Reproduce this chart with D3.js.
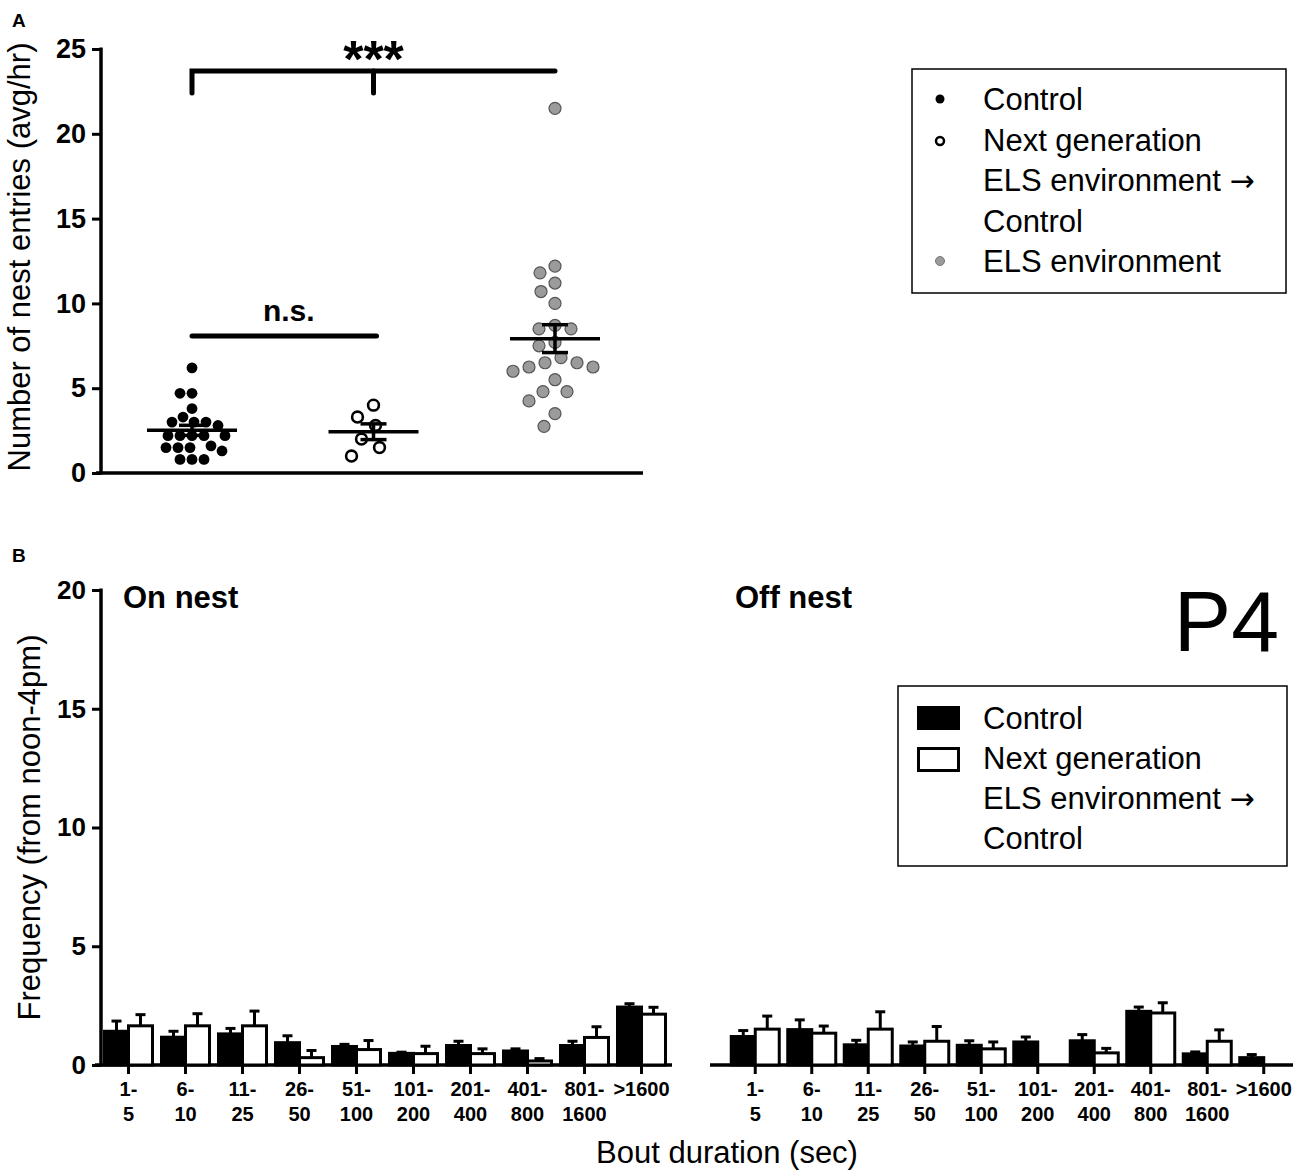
<!DOCTYPE html>
<html>
<head>
<meta charset="utf-8">
<script src="https://cdn.jsdelivr.net/npm/d3@7/dist/d3.min.js"></script>
<style>
  body { margin: 0; background: #fff; }
  text { font-family: "Liberation Sans", Arial, sans-serif; fill: #000; }
</style>
</head>
<body>
<div id="chart"></div>
<script>
// ---- panel A data (nest entries, avg/hr) ----
var groupsA = ["Control", "Next", "ELS"];
var controlVals = [6.2, 4.7, 4.7, 3.8, 3.0, 3.3, 3.0, 3.0, 2.8, 2.2, 2.2, 2.2, 2.2, 2.2,
                   1.5, 1.5, 1.6, 1.3, 1.5, 0.8, 0.8, 0.8];
var nextVals = [4.0, 3.3, 2.8, 2.0, 1.5, 1.0];
var elsVals = [21.5, 12.2, 11.8, 11.2, 10.7, 10.0, 8.7, 8.5, 8.5, 7.5, 7.7, 6.8, 6.5, 6.25,
               6.0, 6.25, 6.5, 5.5, 4.8, 4.8, 4.25, 3.5, 2.75];
var ticksA = [0, 5, 10, 15, 20, 25];
var legendA = ["Control", "Next generation", "ELS environment ", "Control", "ELS environment"];

// ---- panel B data (bout frequency) ----
var boutCats = ["1-5", "6-10", "11-25", "26-50", "51-100", "101-200", "201-400", "401-800", "801-1600", ">1600"];
var boutLabels = [["1-", "5"], ["6-", "10"], ["11-", "25"], ["26-", "50"], ["51-", "100"],
                  ["101-", "200"], ["201-", "400"], ["401-", "800"], ["801-", "1600"], [">1600", ""]];
var onCtrl = [1.42, 1.17, 1.31, 0.94, 0.78, 0.49, 0.82, 0.59, 0.82, 2.44];
var onCtrlErr = [0.43, 0.25, 0.23, 0.29, 0.09, 0.05, 0.18, 0.09, 0.18, 0.14];
var onNext = [1.65, 1.65, 1.65, 0.31, 0.65, 0.48, 0.48, 0.17, 1.16, 2.14];
var onNextErr = [0.47, 0.51, 0.62, 0.30, 0.38, 0.31, 0.20, 0.10, 0.45, 0.29];
var offCtrl = [1.20, 1.49, 0.85, 0.80, 0.83, 0.97, 1.02, 2.26, 0.47, 0.31];
var offCtrlErr = [0.25, 0.41, 0.19, 0.17, 0.19, 0.21, 0.26, 0.18, 0.08, 0.13];
var offNext = [1.51, 1.34, 1.51, 1.00, 0.68, 0, 0.51, 2.19, 1.00, 0];
var offNextErr = [0.55, 0.30, 0.73, 0.62, 0.29, 0, 0.19, 0.43, 0.48, 0];
var ticksB = [0, 5, 10, 15, 20];
var legendB = ["Control", "Next generation", "ELS environment ", "Control"];

var W = 1300, H = 1176;
var svg = d3.select("#chart").append("svg").attr("width", W).attr("height", H);

// legend line, with the arrow in a font that draws it larger
function legendText(g, x, y, t) {
    var el = g.append("text").attr("x", x).attr("y", y).style("font-size", "31px").text(t);
    if (t.indexOf("ELS environment ") === 0 && t.length === 16) {
        el.append("tspan").style("font-family", "DejaVu Sans").style("font-size", "30px").text("\u2192");
    }
}

// ================= Panel A =================
var yA = d3.scaleLinear().domain([0, 25]).range([473, 49]);
var xA = d3.scalePoint().domain(groupsA).range([192, 555]);

svg.append("text").attr("x", 12).attr("y", 27).style("font-weight", "bold").style("font-size", "19px").text("A");

var axA = svg.append("g").attr("transform", "translate(101,0)")
    .call(d3.axisLeft(yA).tickValues(ticksA).tickSize(9).tickPadding(6));
axA.select(".domain").remove();
axA.selectAll(".tick line").attr("stroke", "#000").attr("stroke-width", 3);
axA.selectAll(".tick text").style("font-size", "27px").style("font-weight", "bold")
    .style("font-family", "Liberation Sans, Arial, sans-serif");
svg.append("line").attr("x1", 101).attr("x2", 101).attr("y1", yA(25) - 1.5).attr("y2", yA(0) + 1.5)
    .attr("stroke", "#000").attr("stroke-width", 3.5);
svg.append("line").attr("x1", 96).attr("x2", 643).attr("y1", yA(0)).attr("y2", yA(0))
    .attr("stroke", "#000").attr("stroke-width", 3.5);

svg.append("text").attr("transform", "translate(30," + (yA(12.5) - 4) + ") rotate(-90)")
    .attr("text-anchor", "middle").style("font-size", "31px").text("Number of nest entries (avg/hr)");

// simple beeswarm: place each value at the nearest free offset from the group centre
function swarm(vals, r) {
    var placed = [];
    var order = vals.map(function(v, i) { return i; }).sort(function(a, b) { return vals[b] - vals[a]; });
    var out = new Array(vals.length);
    order.forEach(function(i) {
        var py = yA(vals[i]);
        var best = 0;
        for (var k = 0; k < 400; k++) {
            var cand = (k % 2 === 0 ? 1 : -1) * Math.ceil(k / 2);
            var ok = placed.every(function(p) {
                var dx = p.dx - cand, dy = p.y - py;
                return dx * dx + dy * dy >= (2 * r) * (2 * r);
            });
            if (ok) { best = cand; break; }
        }
        placed.push({dx: best, y: py});
        out[i] = {dx: best, y: py, v: vals[i]};
    });
    return out;
}

var seriesA = [
    {g: "Control", vals: controlVals, r: 5.4, fill: "#000", stroke: "#000", sw: 0, gap: 0.6},
    {g: "Next", vals: nextVals, r: 5.4, fill: "#fff", stroke: "#000", sw: 2.6, gap: 3},
    {g: "ELS", vals: elsVals, r: 6, fill: "#9b9b9b", stroke: "#555", sw: 1.2, gap: 1.5}
];

seriesA.forEach(function(s) {
    var pts = swarm(s.vals, s.r + s.sw / 2 + s.gap);
    svg.append("g").selectAll("circle").data(pts).enter().append("circle")
        .attr("cx", function(d) { return xA(s.g) + d.dx; })
        .attr("cy", function(d) { return d.y; })
        .attr("r", s.r)
        .attr("fill", s.fill).attr("stroke", s.stroke).attr("stroke-width", s.sw);

    var m = d3.mean(s.vals);
    var sem = d3.deviation(s.vals) / Math.sqrt(s.vals.length);
    var cx = xA(s.g);
    var g = svg.append("g").attr("stroke", "#000").attr("stroke-width", 3.5);
    g.append("line").attr("x1", cx - 45).attr("x2", cx + 45).attr("y1", yA(m)).attr("y2", yA(m));
    g.append("line").attr("x1", cx).attr("x2", cx).attr("y1", yA(m - sem)).attr("y2", yA(m + sem));
    [m - sem, m + sem].forEach(function(v) {
        g.append("line").attr("x1", cx - 13).attr("x2", cx + 13).attr("y1", yA(v)).attr("y2", yA(v));
    });
});

// significance marks
var sig = svg.append("g").attr("stroke", "#000").attr("stroke-width", 5).attr("stroke-linecap", "round").attr("fill", "none");
sig.append("path").attr("d", "M" + xA("Control") + "," + yA(22.4) + "V" + yA(23.7) + "H" + xA("ELS"));
sig.append("line").attr("x1", xA("Next")).attr("x2", xA("Next")).attr("y1", yA(23.7)).attr("y2", yA(22.4));
sig.append("line").attr("x1", xA("Control")).attr("x2", xA("Next") + 3).attr("y1", yA(8.08)).attr("y2", yA(8.08));
svg.append("text").attr("x", xA("Next")).attr("y", yA(23.7) + 6).attr("text-anchor", "middle")
    .style("font-size", "52px").style("font-weight", "bold").text("***");
svg.append("text").attr("x", (xA("Control") + xA("Next")) / 2 + 6).attr("y", yA(8.08) - 15).attr("text-anchor", "middle")
    .style("font-size", "30px").style("font-weight", "bold").text("n.s.");

// legend A
svg.append("rect").attr("x", 912).attr("y", 69).attr("width", 374).attr("height", 224)
    .attr("fill", "none").attr("stroke", "#000").attr("stroke-width", 1.5);
var legA = svg.append("g");
legendA.forEach(function(t, i) { legendText(legA, 983, 110 + i * 40.5, t); });
legA.append("circle").attr("cx", 940).attr("cy", 99).attr("r", 4.5).attr("fill", "#000");
legA.append("circle").attr("cx", 940).attr("cy", 141).attr("r", 4).attr("fill", "#fff").attr("stroke", "#000").attr("stroke-width", 2.5);
legA.append("circle").attr("cx", 940).attr("cy", 261).attr("r", 4.5).attr("fill", "#9b9b9b").attr("stroke", "#777").attr("stroke-width", 1);

// ================= Panel B =================
var yB = d3.scaleLinear().domain([0, 20]).range([1065, 590]);
var xL = d3.scaleBand().domain(boutCats).range([100, 670]);
var xR = d3.scaleBand().domain(boutCats).range([727, 1292]);
var bw = 24;

svg.append("text").attr("x", 12).attr("y", 562).style("font-weight", "bold").style("font-size", "19px").text("B");

var axB = svg.append("g").attr("transform", "translate(101,0)")
    .call(d3.axisLeft(yB).tickValues(ticksB).tickSize(9).tickPadding(6));
axB.select(".domain").remove();
axB.selectAll(".tick line").attr("stroke", "#000").attr("stroke-width", 3);
axB.selectAll(".tick text").style("font-size", "26px").style("font-weight", "bold")
    .style("font-family", "Liberation Sans, Arial, sans-serif");
svg.append("line").attr("x1", 101).attr("x2", 101).attr("y1", yB(20) - 1.5).attr("y2", yB(0) + 1.5)
    .attr("stroke", "#000").attr("stroke-width", 3.5);

svg.append("text").attr("transform", "translate(40," + yB(10) + ") rotate(-90)")
    .attr("text-anchor", "middle").style("font-size", "31px").text("Frequency (from noon-4pm)");

function barPanel(x, x0, x1, ctrl, ctrlErr, next, nextErr, title, tx) {
    var g = svg.append("g");
    g.append("line").attr("x1", x0).attr("x2", x1).attr("y1", yB(0)).attr("y2", yB(0))
        .attr("stroke", "#000").attr("stroke-width", 3.5);
    var rows = boutCats.map(function(c, i) {
        return {c: c, i: i, ctrl: ctrl[i], ce: ctrlErr[i], next: next[i], ne: nextErr[i]};
    });
    var cxf = function(d) { return x(d.c) + x.bandwidth() / 2; };
    // error bars (upper only) under the bars
    var eb = g.append("g").attr("stroke", "#000").attr("stroke-width", 3);
    rows.forEach(function(d) {
        [[d.ctrl, d.ce, cxf(d) - bw / 2], [d.next, d.ne, cxf(d) + bw / 2]].forEach(function(e) {
            if (e[0] <= 0) return;
            eb.append("line").attr("x1", e[2]).attr("x2", e[2]).attr("y1", yB(e[0])).attr("y2", yB(e[0] + e[1]));
            eb.append("line").attr("x1", e[2] - 5).attr("x2", e[2] + 5).attr("y1", yB(e[0] + e[1])).attr("y2", yB(e[0] + e[1]));
        });
    });
    g.selectAll(".bc").data(rows.filter(function(d) { return d.ctrl > 0; })).enter().append("rect")
        .attr("x", function(d) { return cxf(d) - bw; })
        .attr("y", function(d) { return yB(d.ctrl); })
        .attr("width", bw).attr("height", function(d) { return yB(0) - yB(d.ctrl); })
        .attr("fill", "#000").attr("stroke", "#000").attr("stroke-width", 3);
    g.selectAll(".bn").data(rows.filter(function(d) { return d.next > 0; })).enter().append("rect")
        .attr("x", function(d) { return cxf(d); })
        .attr("y", function(d) { return yB(d.next); })
        .attr("width", bw).attr("height", function(d) { return yB(0) - yB(d.next); })
        .attr("fill", "#fff").attr("stroke", "#000").attr("stroke-width", 3);
    // ticks and two-line labels
    rows.forEach(function(d) {
        var cx = cxf(d);
        g.append("line").attr("x1", cx).attr("x2", cx).attr("y1", yB(0)).attr("y2", yB(0) + 9)
            .attr("stroke", "#000").attr("stroke-width", 3);
        boutLabels[d.i].forEach(function(t, k) {
            g.append("text").attr("x", cx).attr("y", 1096 + k * 25).attr("text-anchor", "middle")
                .style("font-size", "20px").style("font-weight", "bold").text(t);
        });
    });
    g.append("text").attr("x", tx).attr("y", 608).style("font-size", "31px").style("font-weight", "bold").text(title);
}

barPanel(xL, 95, 672, onCtrl, onCtrlErr, onNext, onNextErr, "On nest", 123);
barPanel(xR, 710, 1293, offCtrl, offCtrlErr, offNext, offNextErr, "Off nest", 735);

svg.append("text").attr("x", 1279).attr("y", 651).attr("text-anchor", "end").style("font-size", "86px").text("P4");

svg.append("text").attr("x", 727).attr("y", 1163).attr("text-anchor", "middle").style("font-size", "31px").text("Bout duration (sec)");

// legend B
svg.append("rect").attr("x", 898).attr("y", 686).attr("width", 389).attr("height", 180)
    .attr("fill", "none").attr("stroke", "#000").attr("stroke-width", 1.5);
var legB = svg.append("g");
legendB.forEach(function(t, i) { legendText(legB, 983, 729 + i * 40, t); });
svg.append("rect").attr("x", 917).attr("y", 706).attr("width", 43).attr("height", 24).attr("fill", "#000");
svg.append("rect").attr("x", 918.5).attr("y", 748.5).attr("width", 40).attr("height", 22)
    .attr("fill", "#fff").attr("stroke", "#000").attr("stroke-width", 3);
</script>
</body>
</html>
